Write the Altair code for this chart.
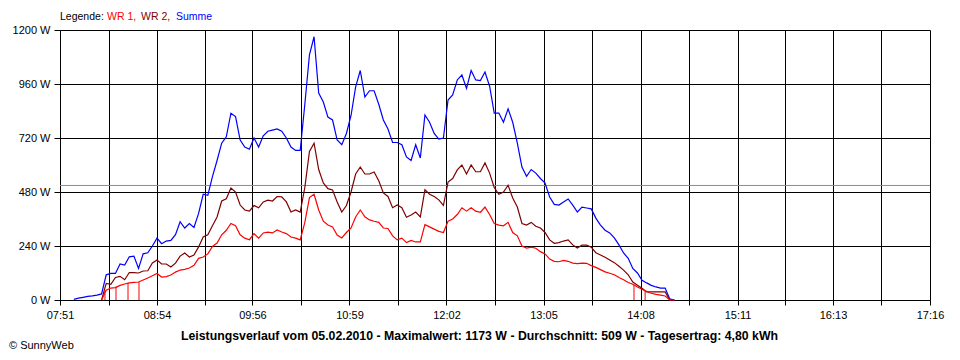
import json
import altair as alt
import pandas as pd

# ---------------- data ----------------
times = [
    "08:00", "08:03", "08:06", "08:09", "08:12", "08:15", "08:18", "08:21", "08:24", "08:27",
    "08:30", "08:33", "08:36", "08:39", "08:42", "08:45", "08:48", "08:51", "08:54", "08:57",
    "09:00", "09:03", "09:06", "09:09", "09:12", "09:15", "09:18", "09:21", "09:24", "09:27",
    "09:30", "09:33", "09:36", "09:39", "09:42", "09:45", "09:48", "09:51", "09:54", "09:57",
    "10:00", "10:03", "10:06", "10:09", "10:12", "10:15", "10:18", "10:21", "10:24", "10:27",
    "10:30", "10:33", "10:36", "10:39", "10:42", "10:45", "10:48", "10:51", "10:54", "10:57",
    "11:00", "11:03", "11:06", "11:09", "11:12", "11:15", "11:18", "11:21", "11:24", "11:27",
    "11:30", "11:33", "11:36", "11:39", "11:42", "11:45", "11:48", "11:51", "11:54", "11:57",
    "12:00", "12:03", "12:06", "12:09", "12:12", "12:15", "12:18", "12:21", "12:24", "12:27",
    "12:30", "12:33", "12:36", "12:39", "12:42", "12:45", "12:48", "12:51", "12:54", "12:57",
    "13:00", "13:03", "13:06", "13:09", "13:12", "13:15", "13:18", "13:21", "13:24", "13:27",
    "13:30", "13:33", "13:36", "13:39", "13:42", "13:45", "13:48", "13:51", "13:54", "13:57",
    "14:00", "14:03", "14:06", "14:09", "14:12", "14:15", "14:18", "14:21", "14:24", "14:27",
    "14:30",
]

summe = [
    3, 8, 12, 16, 18, 22, 27, 112, 118, 118,
    160, 155, 192, 195, 140, 205, 210, 240, 275, 250,
    262, 265, 290, 348, 320, 340, 322, 385, 470, 465,
    548, 620, 697, 725, 830, 815, 711, 680, 670, 720,
    680, 730, 750, 755, 760, 750, 720, 680, 665, 665,
    870, 1090, 1170, 920, 880, 813, 800, 711, 690, 740,
    820, 947, 1020, 902, 930, 930, 870, 800, 760, 700,
    700, 690, 636, 620, 690, 631, 822, 790, 740, 715,
    720, 889, 911, 978, 1000, 940, 1020, 978, 975, 1013,
    950, 831, 831, 790, 850, 790, 697, 591, 550, 580,
    564, 540, 520, 458, 425, 422, 436, 449, 422, 391,
    413, 409, 405, 364, 333, 310, 298, 276, 245, 209,
    185, 140, 120, 88, 76, 65, 58, 53, 53, 5,
    0,
]

wr2 = [
    None, None, None, None, None, None, 0, 74, 70, 100,
    105, 90, 122, 122, 120, 129, 130, 165, 178, 160,
    160, 147, 164, 195, 209, 191, 200, 236, 280, 290,
    330, 369, 440, 450, 498, 480, 422, 400, 395, 420,
    410, 436, 444, 440, 460, 458, 436, 391, 400, 391,
    500, 660, 697, 580, 520, 495, 489, 436, 391, 420,
    480, 560, 591, 560, 560, 569, 530, 476, 460, 410,
    422, 410, 368, 378, 391, 369, 490, 470, 460, 445,
    420, 524, 540, 578, 600, 560, 600, 570, 570, 609,
    564, 500, 470, 480, 510, 453, 413, 340, 333, 345,
    328, 320, 300, 267, 252, 255, 262, 267, 245, 231,
    244, 244, 235, 210, 200, 190, 178, 166, 150, 133,
    112, 80, 66, 52, 36, 36, 36, 36, 36, 0,
    0,
]

wr1 = [
    None, None, None, None, None, None, 0, 44, 53, 55,
    65, 71, 76, 78, 80, 89, 98, 108, 118, 102,
    104, 111, 124, 133, 136, 142, 154, 185, 191, 205,
    238, 253, 290, 310, 340, 330, 290, 275, 268, 295,
    275, 298, 302, 298, 311, 302, 295, 280, 275, 267,
    345, 455, 470, 400, 350, 333, 325, 289, 276, 300,
    320, 369, 400, 370, 356, 350, 345, 320, 318, 285,
    267, 275, 255, 265, 258, 258, 335, 325, 315, 305,
    300, 350, 360, 380, 410, 395, 410, 395, 390, 413,
    380, 340, 333, 330, 345, 300, 285, 240, 231, 235,
    230, 215, 205, 182, 172, 170, 176, 172, 164, 162,
    164, 163, 153, 145, 135, 125, 119, 112, 100, 90,
    78, 70, 58, 48, 38, 30, 25, 22, 18, 0,
    0,
]

# short drop-outs of WR 1 down to 0 W
wr1_dropout_times = ["08:20:12", "08:27:22", "08:35:10", "08:42:18", "14:03:46", "14:11:00"]
wr1_dropout_levels = [44, 60, 76, 80, 68, 40]

y_ticks = [0, 240, 480, 720, 960, 1200]
x_tick_labels = ["07:51", "08:54", "09:56", "10:59", "12:02", "13:05", "14:08", "15:11", "16:13", "17:16"]
average_w = 509

legend_parts = ["Legende:", "WR 1,", "WR 2,", "Summe"]
legend_colors = ["#000000", "#ff0000", "#800000", "#0000ff"]
series_colors = {"summe": "#0000ff", "wr2": "#800000", "wr1": "#ff0000"}
title_text = ("Leistungsverlauf vom 05.02.2010 - Maximalwert: 1173 W - "
              "Durchschnitt: 509 W - Tagesertrag: 4,80 kWh")
copyright_text = "\u00a9 SunnyWeb"

FONT = "Liberation Sans"


def to_min(s):
    parts = [int(p) for p in s.split(":")]
    m = parts[0] * 60 + parts[1]
    if len(parts) > 2:
        m += parts[2] / 60.0
    return m


tmin = [to_min(t) for t in times]
label_min = [to_min(t) for t in x_tick_labels]
grid_vals = sorted(label_min + [(a + b) / 2 for a, b in zip(label_min[:-1], label_min[1:])])

df = pd.DataFrame({"t": tmin, "summe": summe, "wr2": wr2, "wr1": wr1})
drop_df = pd.DataFrame({"t": [to_min(t) for t in wr1_dropout_times], "level": wr1_dropout_levels})
avg_df = pd.DataFrame({"avg": [average_w]})

lm = json.dumps(label_min)
ll = json.dumps(x_tick_labels)
x_label_expr = f"indexof({lm}, datum.value) < 0 ? '' : {ll}[indexof({lm}, datum.value)]"

x_scale = alt.Scale(domain=[label_min[0], label_min[-1]], nice=False, zero=False)
y_scale = alt.Scale(domain=[0, 1200], nice=False)

x_axis = alt.Axis(
    values=grid_vals, labelExpr=x_label_expr, title=None, grid=True,
    gridColor="black", gridOpacity=1, gridWidth=1,
    tickColor="black", tickSize=5, domainColor="black",
    labelPadding=4, labelFlush=False, labelOverlap=False,
    labelFont=FONT, labelFontSize=11, labelColor="black",
)
y_axis = alt.Axis(
    values=y_ticks, labelExpr="datum.value + ' W'", title=None, grid=True,
    gridColor="black", gridOpacity=1, gridWidth=1,
    tickColor="black", tickSize=6, domainColor="black",
    labelPadding=4, labelOverlap=False,
    labelFont=FONT, labelFontSize=11, labelColor="black",
)


def X(field):
    return alt.X(field, type="quantitative", scale=x_scale, axis=x_axis)


def Y(field):
    return alt.Y(field, type="quantitative", scale=y_scale, axis=y_axis)


avg_rule = alt.Chart(avg_df).mark_rule(color="#8c8c8c", strokeWidth=1).encode(y=Y("avg"))

line_layers = []
for key in ["summe", "wr2", "wr1"]:
    line_layers.append(
        alt.Chart(df).mark_line(color=series_colors[key], strokeWidth=1.2, interpolate="linear")
        .encode(x=X("t"), y=Y(key))
    )

drops = alt.Chart(drop_df).mark_rule(color="#ff0000", strokeWidth=1).encode(
    x=X("t"), y=Y("level"), y2=alt.datum(0)
)

# legend text at top (colored words)
legend_x = [0, 47, 81, 116]
legend_layers = []
for txt, col, lx in zip(legend_parts, legend_colors, legend_x):
    legend_layers.append(
        alt.Chart(avg_df).mark_text(text=txt, color=col, font=FONT, fontSize=10.5,
                                    align="left", baseline="alphabetic")
        .encode(x=alt.value(lx), y=alt.value(-10))
    )

title_mark = alt.Chart(avg_df).mark_text(
    text=title_text, font=FONT, fontSize=12.3, fontWeight="bold", color="black",
    align="center", baseline="alphabetic",
).encode(x=alt.value(419.5), y=alt.value(310))

copy_mark = alt.Chart(avg_df).mark_text(
    text=copyright_text, font=FONT, fontSize=11, color="black",
    align="left", baseline="alphabetic",
).encode(x=alt.value(-51), y=alt.value(319))

chart = alt.layer(
    avg_rule, *line_layers, drops, *legend_layers, title_mark, copy_mark
).properties(
    width=870, height=270,
    autosize=alt.AutoSizeParams(type="none"),
    padding={"left": 52, "top": 22, "right": 22, "bottom": 52},
    background="white",
).configure_view(strokeWidth=0)

chart.save("out.html", embed_options={"renderer": "svg", "actions": False})
